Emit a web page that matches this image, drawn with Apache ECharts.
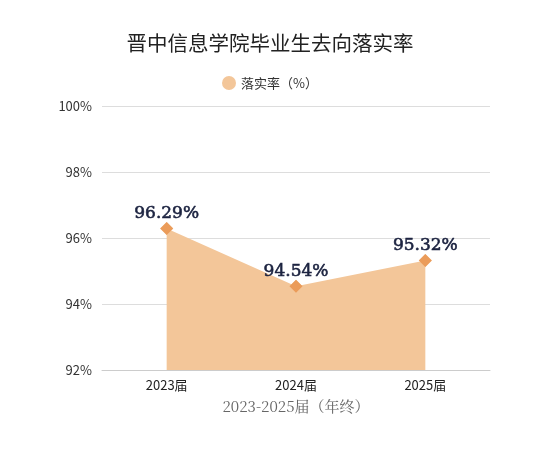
<!DOCTYPE html>
<html>
<head>
<meta charset="utf-8">
<script src="https://cdn.jsdelivr.net/npm/echarts@6/dist/echarts.min.js"></script>
<style>
  html, body { margin: 0; padding: 0; background: #fff; }
  #main { width: 540px; height: 454px; }
</style>
</head>
<body>
<div id="main"></div>
<script>
// 数据
var categories = ['2023届', '2024届', '2025届'];
var rates = [96.29, 94.54, 95.32];
var yTicks = [92, 94, 96, 98, 100];

var chart = echarts.init(document.getElementById('main'));
var option = {
  backgroundColor: '#fff',
  title: {
    text: '晋中信息学院毕业生去向落实率',
    left: 'center',
    top: 28,
    textStyle: { fontSize: 20.5, fontWeight: 'normal', color: '#222', fontFamily: 'Noto Sans CJK SC' }
  },
  legend: {
    top: 71,
    left: 'center',
    icon: 'circle',
    itemWidth: 14,
    itemHeight: 14,
    textStyle: { fontSize: 13, color: '#333', fontFamily: 'Noto Sans CJK SC' },
    data: ['落实率（%）']
  },
  grid: { left: 102, right: 50, top: 106, bottom: 84 },
  xAxis: {
    type: 'category',
    data: categories,
    boundaryGap: true,
    name: '2023-2025届（年终）',
    nameLocation: 'middle',
    nameGap: 29,
    nameTextStyle: { fontSize: 15, color: '#666', fontFamily: 'Noto Serif CJK SC, Liberation Serif, serif' },
    axisLine: { show: true, lineStyle: { color: '#ccc' } },
    axisTick: { show: false },
    axisLabel: { fontSize: 13, color: '#222', margin: 9, fontFamily: 'Noto Sans CJK SC' }
  },
  yAxis: {
    type: 'value',
    min: yTicks[0],
    max: yTicks[yTicks.length - 1],
    interval: 2,
    axisLine: { show: false },
    axisTick: { show: false },
    splitLine: { lineStyle: { color: '#ddd' } },
    axisLabel: { fontSize: 13, color: '#333', margin: 10, formatter: '{value}%', fontFamily: 'Noto Sans CJK SC' }
  },
  series: [{
    name: '落实率（%）',
    type: 'line',
    data: rates,
    symbol: 'diamond',
    symbolSize: 13,
    itemStyle: { color: '#F3C699' },
    lineStyle: { width: 0, color: '#F3C699' },
    areaStyle: { color: '#F3C699', opacity: 1, origin: 'start' },
    emphasis: { disabled: true },
    label: {
      show: true,
      position: 'top',
      distance: 0,
      formatter: function (p) { return p.value.toFixed(2) + '%'; },
      fontSize: 17,
      fontWeight: 'normal',
      color: '#1c2340',
      textBorderColor: '#1c2340',
      textBorderWidth: 0.6,
      fontFamily: 'DejaVu Serif, Liberation Serif, serif'
    },
    z: 2
  }, {
    // 菱形标记
    type: 'scatter',
    data: rates,
    symbol: 'diamond',
    symbolSize: 13,
    itemStyle: { color: '#E8914A' },
    emphasis: { disabled: true },
    silent: true,
    z: 3
  }]
};
chart.setOption(option);
</script>
</body>
</html>
